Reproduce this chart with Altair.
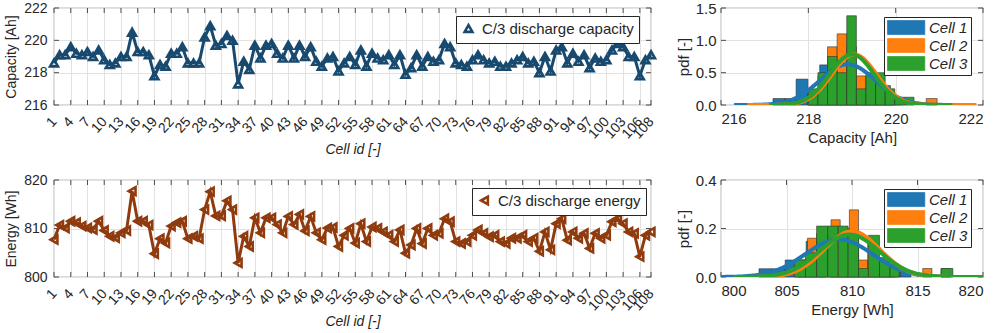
import altair as alt
import pandas as pd
import numpy as np

# ---------------- data ----------------
cell_ids = list(range(1, 109))
capacity = [218.6, 219.1, 219.1, 219.6, 219.2, 219.1, 219.3, 219.0, 219.4, 218.8,
            218.5, 218.6, 219.0, 219.0, 220.5, 219.3, 219.3, 219.1, 217.8, 218.5,
            218.4, 219.2, 219.2, 219.6, 218.6, 218.6, 218.6, 220.2, 220.9, 219.7,
            219.8, 220.3, 220.0, 217.3, 218.7, 218.2, 219.7, 218.9, 219.7, 219.8,
            219.2, 218.9, 219.7, 218.9, 219.7, 219.0, 219.6, 218.7, 218.4, 218.9,
            219.0, 218.1, 218.6, 219.0, 218.5, 219.4, 218.4, 219.2, 218.9, 218.8,
            219.1, 218.5, 219.1, 217.9, 218.3, 219.1, 218.4, 219.0, 218.7, 218.8,
            219.8, 219.6, 218.6, 218.5, 218.4, 218.8, 219.1, 218.8, 218.6, 218.7,
            218.4, 218.4, 218.6, 218.8, 219.0, 218.6, 218.7, 218.0, 219.0, 218.1,
            219.4, 219.6, 218.6, 219.2, 218.7, 219.1, 218.3, 218.9, 218.7, 218.8,
            219.4, 219.8, 219.6, 219.0, 219.0, 217.8, 218.8, 219.1]
energy = [807.7, 810.7, 810.1, 811.5, 811.2, 810.5, 810.1, 809.8, 811.5, 809.6,
          808.4, 808.1, 809.1, 809.6, 817.7, 811.5, 811.5, 810.7, 804.8, 807.9,
          807.0, 810.5, 811.2, 811.5, 807.9, 808.4, 807.9, 813.9, 817.6, 812.6,
          812.6, 815.7, 813.9, 802.9, 808.4, 806.3, 812.2, 809.1, 812.2, 812.2,
          810.8, 809.1, 812.5, 810.8, 812.9, 809.5, 812.5, 809.1, 807.7, 810.1,
          810.2, 806.3, 808.6, 810.0, 807.0, 811.0, 807.3, 810.3, 810.0, 809.3,
          808.6, 807.3, 809.7, 804.9, 806.6, 810.0, 806.9, 810.0, 808.6, 809.0,
          812.0, 811.4, 807.3, 806.9, 807.3, 808.6, 809.7, 809.0, 808.3, 808.6,
          807.3, 806.9, 808.0, 808.0, 808.6, 807.3, 808.0, 805.3, 809.3, 805.6,
          811.0, 812.0, 807.6, 809.3, 808.0, 809.0, 805.9, 809.0, 808.0, 808.6,
          811.4, 812.0, 811.0, 809.3, 809.0, 804.2, 808.6, 809.3]
xtick_vals = list(range(1, 107, 3)) + [108]

cap_series = "C/3 discharge capacity"
en_series = "C/3 discharge energy"
cell_names = ["Cell 1", "Cell 2", "Cell 3"]

# histogram bins: left edges, right edges, heights (pdf)
cap_h_lo = {
    "Cell 1": [217.19, 217.46, 217.72, 217.99, 218.26, 218.53, 218.80, 219.07, 219.34, 219.61, 219.88],
    "Cell 2": [218.0, 218.22, 218.44, 218.66, 218.88, 219.1, 219.32, 219.54, 219.76, 220.7],
    "Cell 3": [218.0, 218.22, 218.44, 218.66, 218.88, 219.1, 219.32, 219.54, 219.76, 219.98, 220.2],
}
cap_h_hi = {
    "Cell 1": [217.46, 217.72, 217.99, 218.26, 218.53, 218.80, 219.07, 219.34, 219.61, 219.88, 220.15],
    "Cell 2": [218.22, 218.44, 218.66, 218.88, 219.1, 219.32, 219.54, 219.76, 219.98, 220.95],
    "Cell 3": [218.22, 218.44, 218.66, 218.88, 219.1, 219.32, 219.54, 219.76, 219.98, 220.2, 220.42],
}
cap_h_val = {
    "Cell 1": [0.1, 0.1, 0.4, 0.2, 0.62, 0.6, 0.6, 0.4, 0.45, 0.3, 0.1],
    "Cell 2": [0.2, 0.45, 0.9, 1.1, 0.9, 0.45, 0.43, 0.3, 0.2, 0.1],
    "Cell 3": [0.25, 0.5, 0.75, 0.5, 1.38, 0.25, 0.5, 0.5, 0.25, 0.12, 0.12],
}
en_h_lo = {
    "Cell 1": [802.9, 803.9, 804.9, 805.7, 806.5, 807.3, 808.1, 808.9, 809.7, 810.5, 811.3, 812.1, 812.9, 813.7],
    "Cell 2": [805.9, 806.6, 807.3, 808.4, 809.1, 809.8, 810.5, 811.2, 811.9, 812.6, 815.4, 816.8],
    "Cell 3": [805.6, 806.45, 807.3, 808.15, 808.95, 809.7, 810.5, 811.25, 812.1, 812.9, 816.8],
}
en_h_hi = {
    "Cell 1": [803.9, 804.9, 805.7, 806.5, 807.3, 808.1, 808.9, 809.7, 810.5, 811.3, 812.1, 812.9, 813.7, 814.5],
    "Cell 2": [806.6, 807.3, 808.0, 809.1, 809.8, 810.5, 811.2, 811.9, 812.6, 813.3, 816.1, 817.5],
    "Cell 3": [806.45, 807.3, 808.15, 808.95, 809.7, 810.5, 811.25, 812.1, 812.9, 813.6, 817.7],
}
en_h_val = {
    "Cell 1": [0.034, 0.034, 0.07, 0.07, 0.147, 0.15, 0.17, 0.15, 0.12, 0.06, 0.06, 0.06, 0.04, 0.02],
    "Cell 2": [0.07, 0.16, 0.18, 0.236, 0.2, 0.277, 0.07, 0.15, 0.07, 0.05, 0.035, 0.035],
    "Cell 3": [0.07, 0.1, 0.21, 0.21, 0.21, 0.19, 0.035, 0.172, 0.08, 0.05, 0.035],
}
# fitted normal curves: mean, std, start, end
cap_fit = {"Cell 1": (218.9, 0.633, 216.3, 221.4),
           "Cell 2": (219.05, 0.51, 216.6, 221.85),
           "Cell 3": (219.0, 0.51, 217.1, 221.3)}
en_fit = {"Cell 1": (809.0, 2.57, 800.0, 818.5),
          "Cell 2": (810.0, 2.12, 801.0, 820.0),
          "Cell 3": (809.8, 2.28, 801.0, 820.0)}

# ---------------- style ----------------
FONT = "Liberation Sans"
AX = "#262626"
GRID = "#e2e2e2"
HCOL = ["#1f77b4", "#ff7f0e", "#2ca02c"]
LW, LH = 597, 97
RW, RH = 262, 97


def inner_ticks(xenc, yenc, xvals, yvals, w, h, tl=5):
    tx = pd.DataFrame({xenc.shorthand.split(":")[0]: xvals})
    ty = pd.DataFrame({yenc.shorthand.split(":")[0]: yvals})
    base = dict(color=AX, strokeWidth=0.8)
    return [
        alt.Chart(tx).mark_rule(**base).encode(x=xenc, y=alt.value(0), y2=alt.value(tl)),
        alt.Chart(tx).mark_rule(**base).encode(x=xenc, y=alt.value(h - tl), y2=alt.value(h)),
        alt.Chart(ty).mark_rule(**base).encode(y=yenc, x=alt.value(0), x2=alt.value(tl)),
        alt.Chart(ty).mark_rule(**base).encode(y=yenc, x=alt.value(w - tl), x2=alt.value(w)),
    ]


def line_panel(values, series, color, shape, ydom, yticks, ytitle, lx):
    df = pd.DataFrame({"cell": cell_ids, "v": values, "series": series})
    x = alt.X("cell:Q", scale=alt.Scale(domain=[1, 108], nice=False, zero=False),
              axis=alt.Axis(values=xtick_vals, labelAngle=-48, labelAlign="right",
                            labelBaseline="middle", labelPadding=14, labelFontSize=14,
                            labelOverlap=False, labelFlush=False,
                            title="Cell id [-]", titleFontStyle="italic", titlePadding=1))
    y = alt.Y("v:Q", scale=alt.Scale(domain=ydom, nice=False, zero=False),
              axis=alt.Axis(values=yticks, title=ytitle, labelPadding=7, titlePadding=5))
    line = alt.Chart(df).mark_line(color=color, strokeWidth=3).encode(x=x, y=y)
    leg = alt.Legend(orient="none", legendX=lx, legendY=8, title=None,
                     strokeColor=AX, fillColor="white", padding=5,
                     labelFontSize=15, labelFont=FONT, labelColor=AX,
                     symbolStrokeWidth=2.6, symbolSize=60, labelOffset=6)
    pts = alt.Chart(df).mark_point(filled=False, strokeWidth=2.6, size=62, opacity=1).encode(
        x=x, y=y,
        color=alt.Color("series:N", scale=alt.Scale(range=[color]), legend=leg),
        shape=alt.Shape("series:N", scale=alt.Scale(range=[shape]), legend=leg))
    return alt.layer(*inner_ticks(x, y, xtick_vals, yticks, LW, LH), line, pts).properties(width=LW, height=LH)


def hist_panel(lo, hi, val, fit, xdom, xticks, yticks, ytitle, xtitle, ydom):
    rows = []
    for c in cell_names:
        for a, b, hh in zip(lo[c], hi[c], val[c]):
            rows.append({"lo": a, "hi": b, "h": hh, "z": 0.0, "cell": c})
    bars_df = pd.DataFrame(rows)
    curves = []
    for c in cell_names:
        m, s, a, b = fit[c]
        xs = np.linspace(a, b, 160)
        ys = np.exp(-0.5 * ((xs - m) / s) ** 2) / (s * np.sqrt(2 * np.pi))
        curves.append(pd.DataFrame({"lo": xs, "h": ys, "cell": c}))
    x = alt.X("lo:Q", scale=alt.Scale(domain=xdom, nice=False, zero=False),
              axis=alt.Axis(values=xticks, title=xtitle, labelPadding=6, titlePadding=4, labelFontSize=15, titleFontSize=15))
    y = alt.Y("h:Q", scale=alt.Scale(domain=ydom, nice=False, zero=True),
              axis=alt.Axis(values=yticks, title=ytitle, labelPadding=5, titlePadding=4, labelFontSize=15, titleFontSize=15))
    col_scale = alt.Scale(domain=cell_names, range=HCOL)
    leg = alt.Legend(orient="none", legendX=163, legendY=9, title=None,
                     strokeColor=AX, fillColor="white", padding=3, rowPadding=1,
                     labelFontSize=15, labelFontStyle="italic", labelFont=FONT, labelColor=AX,
                     symbolType="M-1,-1H4.33V1H-1Z", symbolSize=196, symbolStrokeColor="#333333",
                     symbolStrokeWidth=0.7, symbolOpacity=1, labelOffset=27)
    bars = alt.Chart(bars_df).mark_rect(stroke="#333333", strokeWidth=0.6, opacity=1).encode(
        x=x, x2="hi:Q", y=y, y2="z:Q",
        color=alt.Color("cell:N", scale=col_scale, legend=leg))
    lines = [alt.Chart(cd).mark_line(strokeWidth=4, clip=True).encode(
        x=x, y=y, color=alt.Color("cell:N", scale=col_scale, legend=None)) for cd in curves]
    return alt.layer(*inner_ticks(x, y, xticks, yticks, RW, RH), bars, *lines).properties(width=RW, height=RH)


cap_line = line_panel(capacity, cap_series, "#184a70", "triangle-up", [216, 222], [216, 218, 220, 222], "Capacity [Ah]", 402)
en_line = line_panel(energy, en_series, "#8f3b0d", "triangle-left", [800, 820], [800, 810, 820], "Energy [Wh]", 418)
cap_hist = hist_panel(cap_h_lo, cap_h_hi, cap_h_val, cap_fit, [216, 222], [216, 218, 220, 222],
                      [0, 0.5, 1, 1.5], "pdf [-]", "Capacity [Ah]", [0, 1.5])
en_hist = hist_panel(en_h_lo, en_h_hi, en_h_val, en_fit, [800, 820], [800, 805, 810, 815, 820],
                     [0, 0.2, 0.4], "pdf [-]", "Energy [Wh]", [0, 0.4])

chart = alt.concat(
    cap_line,
    cap_hist,
    en_line,
    en_hist,
    columns=2, spacing={"row": 75, "column": 70}, bounds="flush", align="each",
).resolve_scale(color="independent", shape="independent").properties(
    padding={"left": 4, "top": 0, "right": 2, "bottom": 0}
).configure_axis(
    labelFont=FONT, titleFont=FONT, labelFontSize=14, titleFontSize=14,
    labelColor=AX, titleColor=AX, titleFontWeight="normal",
    domain=False, ticks=False, gridColor=GRID, gridWidth=1,
).configure_view(stroke=AX, strokeWidth=0.8).configure_legend(
    labelFont=FONT
)

chart.save("out.html", embed_options={"renderer": "svg", "actions": False})
